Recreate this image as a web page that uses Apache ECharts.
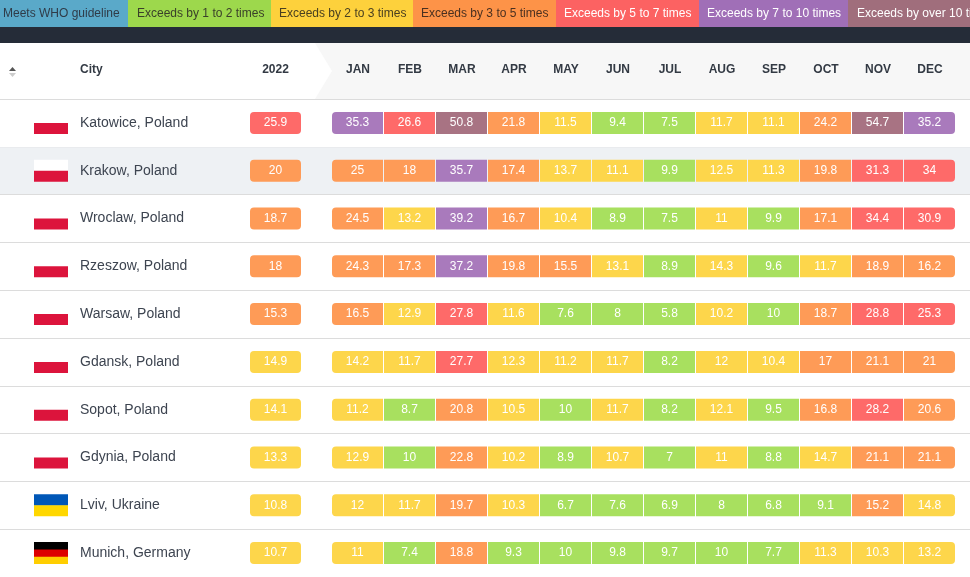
<!DOCTYPE html>
<html>
<head>
<meta charset="utf-8">
<title>PM2.5 monthly averages</title>
<script src="https://cdn.jsdelivr.net/npm/echarts@6.0.0/dist/echarts.min.js"></script>
<style>
  html, body { margin: 0; padding: 0; background: #fff; }
  #main { width: 970px; height: 577px; }
</style>
</head>
<body>
<div id="main"></div>
<script>
const FONT = '"Liberation Sans", Arial, Helvetica, sans-serif';
const ROW_TOP = 99;
const ROW_H = 48;
const CELL_H = 22;

// data
let cities = [
  'Katowice, Poland', 'Krakow, Poland', 'Wroclaw, Poland', 'Rzeszow, Poland',
  'Warsaw, Poland', 'Gdansk, Poland', 'Sopot, Poland', 'Gdynia, Poland',
  'Lviv, Ukraine', 'Munich, Germany'
];
let yearLabel = ['2022'];
let yearAvg = [25.9, 20, 18.7, 18, 15.3, 14.9, 14.1, 13.3, 10.8, 10.7];
let months = ['JAN', 'FEB', 'MAR', 'APR', 'MAY', 'JUN', 'JUL', 'AUG', 'SEP', 'OCT', 'NOV', 'DEC'];
let monthly = [
  [35.3, 26.6, 50.8, 21.8, 11.5, 9.4, 7.5, 11.7, 11.1, 24.2, 54.7, 35.2],
  [25, 18, 35.7, 17.4, 13.7, 11.1, 9.9, 12.5, 11.3, 19.8, 31.3, 34],
  [24.5, 13.2, 39.2, 16.7, 10.4, 8.9, 7.5, 11, 9.9, 17.1, 34.4, 30.9],
  [24.3, 17.3, 37.2, 19.8, 15.5, 13.1, 8.9, 14.3, 9.6, 11.7, 18.9, 16.2],
  [16.5, 12.9, 27.8, 11.6, 7.6, 8, 5.8, 10.2, 10, 18.7, 28.8, 25.3],
  [14.2, 11.7, 27.7, 12.3, 11.2, 11.7, 8.2, 12, 10.4, 17, 21.1, 21],
  [11.2, 8.7, 20.8, 10.5, 10, 11.7, 8.2, 12.1, 9.5, 16.8, 28.2, 20.6],
  [12.9, 10, 22.8, 10.2, 8.9, 10.7, 7, 11, 8.8, 14.7, 21.1, 21.1],
  [12, 11.7, 19.7, 10.3, 6.7, 7.6, 6.9, 8, 6.8, 9.1, 15.2, 14.8],
  [11, 7.4, 18.8, 9.3, 10, 9.8, 9.7, 10, 7.7, 11.3, 10.3, 13.2]
];
let levelLabels = [
  'Meets WHO guideline', 'Exceeds by 1 to 2 times', 'Exceeds by 2 to 3 times',
  'Exceeds by 3 to 5 times', 'Exceeds by 5 to 7 times', 'Exceeds by 7 to 10 times',
  'Exceeds by over 10 times'
];
let levelBreaks = [5, 10, 15, 25, 35, 50];
let hoveredCity = 'Krakow, Poland';

// styles
const CELL_COLORS = ['#5aa9c9', '#a8e05f', '#fdd64b', '#fe9b57', '#fe6a69', '#a97abc', '#a87383'];
const LEGEND_COLORS = ['#5aa9c9', '#9dd84c', '#fdd13c', '#fd9348', '#fc6262', '#a06fb7', '#a06e7c'];
const LEGEND_TEXT = ['#2f3b48', '#3a3f2a', '#4a4020', '#4a3020', '#fff', '#fff', '#fff'];
const LEGEND_WIDTHS = [128, 143, 142, 143, 143, 149, 140];
const LEGEND_PAD = [3, 9, 8, 8, 8, 8, 9];
const FLAG_STRIPES = {
  Poland: ['#ffffff', '#dc143c'],
  Ukraine: ['#0057b7', '#ffd700'],
  Germany: ['#000000', '#dd0000', '#ffce00']
};

let pieces = CELL_COLORS.map(function (color, i) {
  let p = { color: color };
  if (i > 0) p.gt = levelBreaks[i - 1];
  if (i < levelBreaks.length) p.lte = levelBreaks[i];
  return p;
});

let yearData = yearAvg.map(function (v, i) { return [0, i, v]; });
let monthData = [];
monthly.forEach(function (row, i) {
  row.forEach(function (v, j) { monthData.push([j, i, v]); });
});

function renderCell(params, api) {
  const col = api.value(0);
  const row = api.value(1);
  const v = api.value(2);
  const c = api.coord([col, row]);
  const w = api.size([1, 0])[0];
  const isYear = params.seriesId === 'year';
  const count = isYear ? 1 : months.length;
  let r = 0;
  if (isYear) r = 4;
  else if (col === 0) r = [4, 0, 0, 4];
  else if (col === count - 1) r = [0, 4, 4, 0];
  const x = c[0] - w / 2;
  const cw = isYear ? w : w - 1;
  return {
    type: 'group',
    children: [
      {
        type: 'rect',
        shape: { x: x, y: c[1] - CELL_H / 2, width: cw, height: CELL_H, r: r },
        style: { fill: api.visual('color') }
      },
      {
        type: 'text',
        style: {
          text: String(v), x: x + cw / 2, y: c[1],
          align: 'center', verticalAlign: 'middle',
          fill: '#fff', font: '12px ' + FONT
        }
      }
    ]
  };
}

function renderHighlight(params, api) {
  const c = api.coord([0, api.value(1)]);
  const h = api.size([0, 1])[1];
  return {
    type: 'rect',
    shape: { x: params.coordSys.x, y: c[1] - h / 2 + 0.5, width: params.coordSys.width, height: h - 1 },
    style: { fill: '#eef1f4' }
  };
}

function renderFlag(params, api) {
  const row = api.value(1);
  const c = api.coord([0, row]);
  const country = cities[row].split(', ')[1];
  const stripes = FLAG_STRIPES[country];
  const fh = 22, fw = 34, fx = params.coordSys.x + 34;
  const sh = fh / stripes.length;
  return {
    type: 'group',
    children: stripes.map(function (col, k) {
      return {
        type: 'rect',
        shape: { x: fx, y: c[1] - fh / 2 + k * sh, width: fw, height: sh + (k < stripes.length - 1 ? 0.5 : 0) },
        style: { fill: col }
      };
    })
  };
}

// top legend strip and header background
let graphics = [];
let lx = 0;
levelLabels.forEach(function (label, i) {
  graphics.push({
    type: 'rect', z: -10,
    shape: { x: lx, y: 0, width: LEGEND_WIDTHS[i], height: 27 },
    style: { fill: LEGEND_COLORS[i] }
  });
  graphics.push({
    type: 'text', z: -9,
    style: {
      text: label, x: lx + LEGEND_PAD[i], y: 14, verticalAlign: 'middle',
      fill: LEGEND_TEXT[i], font: '12px ' + FONT
    }
  });
  lx += LEGEND_WIDTHS[i];
});
graphics.push(
  { type: 'rect', z: -10, shape: { x: 0, y: 27, width: 970, height: 16 }, style: { fill: '#252c38' } },
  {
    type: 'polygon', z: -10,
    shape: { points: [[315, 43], [970, 43], [970, 99], [315, 99], [332, 71]] },
    style: { fill: '#f7f7f7' }
  },
  {
    type: 'text', z: -9,
    style: { text: 'City', x: 80, y: 70, verticalAlign: 'middle', fill: '#333a44', font: 'bold 12px ' + FONT }
  },
  {
    type: 'polygon', z: -9,
    shape: { points: [[9, 71], [12.5, 67], [16, 71]] }, style: { fill: '#555' }
  },
  {
    type: 'polygon', z: -9,
    shape: { points: [[9, 73], [12.5, 77], [16, 73]] }, style: { fill: '#ccc' }
  }
);

const hiddenAxis = { axisLine: { show: false }, axisTick: { show: false }, axisLabel: { show: false }, splitLine: { show: false } };

var chartDom = document.getElementById('main');
var chart = echarts.init(chartDom, null, { renderer: 'canvas' });
var option = {
  animation: false,
  backgroundColor: '#fff',
  graphic: { elements: graphics },
  grid: [
    { left: 0, top: ROW_TOP, width: 970, height: ROW_H * cities.length },
    { left: 250, top: ROW_TOP, width: 51, height: ROW_H * cities.length },
    { left: 332, top: ROW_TOP, width: 624, height: ROW_H * cities.length }
  ],
  xAxis: [
    Object.assign({ type: 'value', gridIndex: 0, min: 0, max: 1 }, hiddenAxis),
    {
      type: 'category', gridIndex: 1, data: yearLabel, position: 'top',
      axisLine: { show: false }, axisTick: { show: false },
      axisLabel: { margin: 23, color: '#333a44', fontWeight: 'bold', fontSize: 12, fontFamily: FONT }
    },
    {
      type: 'category', gridIndex: 2, data: months, position: 'top',
      axisLine: { show: false }, axisTick: { show: false },
      axisLabel: { margin: 23, color: '#333a44', fontWeight: 'bold', fontSize: 12, fontFamily: FONT, interval: 0 }
    }
  ],
  yAxis: [
    {
      type: 'category', gridIndex: 0, data: cities, inverse: true,
      axisLine: { show: false }, axisTick: { show: false }, axisLabel: { show: false },
      splitLine: { show: true, interval: 0, lineStyle: { color: '#dcdcdc', width: 1 } }
    },
    {
      type: 'category', gridIndex: 1, data: cities, inverse: true, z: 5,
      axisLine: { show: false }, axisTick: { show: false }, splitLine: { show: false },
      axisLabel: { align: 'left', margin: 170, color: '#3d4450', fontSize: 14, fontFamily: FONT, interval: 0 }
    },
    Object.assign({ type: 'category', gridIndex: 2, data: cities, inverse: true }, hiddenAxis)
  ],
  visualMap: {
    type: 'piecewise', show: false, dimension: 2, seriesIndex: [2, 3],
    pieces: pieces
  },
  series: [
    {
      type: 'custom', id: 'hover', xAxisIndex: 0, yAxisIndex: 0, z: 1,
      renderItem: renderHighlight,
      data: [[0, cities.indexOf(hoveredCity)]]
    },
    {
      type: 'custom', id: 'flags', xAxisIndex: 0, yAxisIndex: 0,
      renderItem: renderFlag,
      data: cities.map(function (c, i) { return [0, i]; })
    },
    {
      type: 'custom', id: 'year', xAxisIndex: 1, yAxisIndex: 1,
      renderItem: renderCell, encode: { x: 0, y: 1 },
      data: yearData
    },
    {
      type: 'custom', id: 'months', xAxisIndex: 2, yAxisIndex: 2,
      renderItem: renderCell, encode: { x: 0, y: 1 },
      data: monthData
    }
  ]
};
chart.setOption(option);
</script>
</body>
</html>
